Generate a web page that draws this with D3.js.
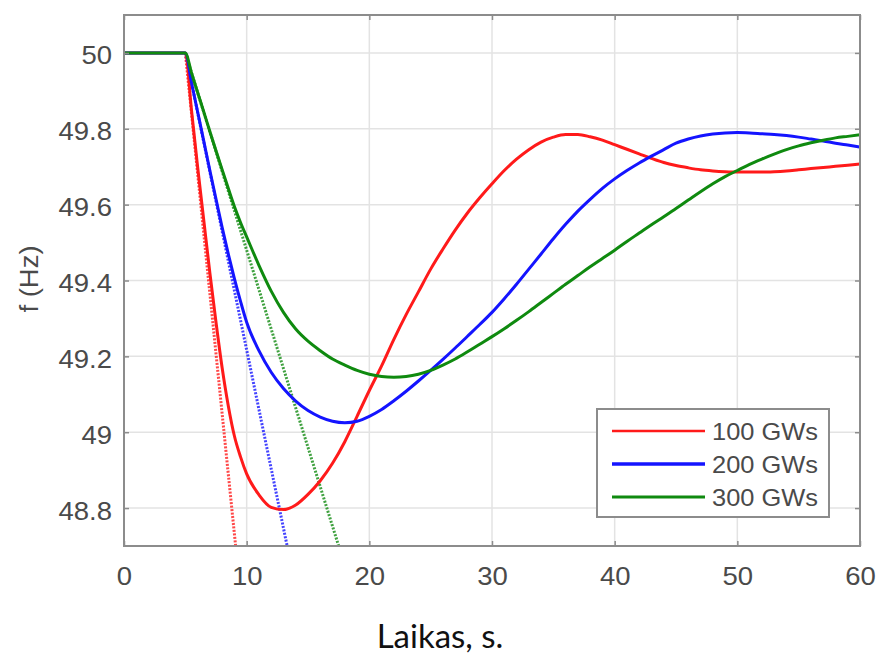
<!DOCTYPE html>
<html><head><meta charset="utf-8">
<script src="https://cdn.jsdelivr.net/npm/d3@7"></script>
<style>body{margin:0;background:#fff}</style>
</head><body>
<svg id="chart" width="880" height="660"></svg>
<script>
const time = [0,5,5.5,6,6.5,7,7.5,8,8.5,9,9.5,10,11,12,13,14,15,16,17,18,19,20,21,22,23,24,25,26,27,28,29,30,31,32,33,34,35,36,37,38,39,40,41,42,43,44,45,46,47,48,49,50,51,52,53,54,55,56,57,58,59,60];
const f100 = [50,50,49.85,49.70,49.56,49.42,49.29,49.17,49.07,48.99,48.935,48.89,48.835,48.802,48.796,48.808,48.836,48.872,48.918,48.975,49.042,49.11,49.175,49.245,49.31,49.37,49.43,49.483,49.533,49.578,49.618,49.655,49.69,49.72,49.745,49.765,49.778,49.785,49.785,49.779,49.77,49.758,49.746,49.734,49.722,49.711,49.703,49.697,49.692,49.689,49.687,49.686,49.686,49.686,49.687,49.689,49.692,49.695,49.698,49.701,49.704,49.707];
const f200 = [50,50,49.922,49.845,49.768,49.69,49.615,49.54,49.47,49.405,49.345,49.29,49.215,49.158,49.115,49.082,49.057,49.04,49.029,49.025,49.029,49.042,49.06,49.083,49.108,49.135,49.163,49.192,49.222,49.253,49.284,49.316,49.352,49.39,49.43,49.47,49.51,49.548,49.583,49.614,49.643,49.668,49.69,49.71,49.728,49.745,49.762,49.773,49.781,49.786,49.789,49.79,49.789,49.787,49.785,49.782,49.778,49.773,49.768,49.762,49.757,49.752];
const f300 = [50,50,49.948,49.896,49.845,49.793,49.742,49.692,49.643,49.595,49.553,49.515,49.44,49.372,49.316,49.272,49.24,49.215,49.193,49.177,49.163,49.153,49.147,49.145,49.147,49.153,49.163,49.177,49.193,49.212,49.232,49.252,49.273,49.295,49.318,49.342,49.366,49.39,49.413,49.436,49.458,49.48,49.503,49.525,49.547,49.568,49.59,49.612,49.634,49.655,49.674,49.69,49.706,49.72,49.733,49.745,49.755,49.763,49.77,49.776,49.78,49.784];
// initial-slope (tangent) dotted lines: start and end points [t, f]
const tangent100 = [[5,50],[9.1,48.7]];
const tangent200 = [[5,50],[13.3,48.7]];
const tangent300 = [[5,50],[17.5,48.7]];
const seriesNames = ["100 GWs","200 GWs","300 GWs"];
const seriesColors = ["#ff1a1a","#1414ff","#0f8a0f"];
const xTicks = [0,10,20,30,40,50,60];
const yTicks = [48.8,49,49.2,49.4,49.6,49.8,50];
const xLabel = "Laikas, s.";
const yLabel = "f (Hz)";

const svg = d3.select("#chart");
const L=124, R=860, T=15, B=546;
const x = d3.scaleLinear().domain([0,60]).range([L,R]);
const y = d3.scaleLinear().domain([48.7,50.1]).range([B,T]);
const SX = 1.1;
const tickColor = "#4a4a4a";

// grid
svg.append("g").selectAll("line.gx").data(xTicks.slice(1,-1)).join("line")
  .attr("x1",d=>x(d)).attr("x2",d=>x(d)).attr("y1",T).attr("y2",B)
  .attr("stroke","#e3e3e3").attr("stroke-width",1.5);
svg.append("g").selectAll("line.gy").data(yTicks).join("line")
  .attr("x1",L).attr("x2",R).attr("y1",d=>y(d)).attr("y2",d=>y(d))
  .attr("stroke","#e3e3e3").attr("stroke-width",1.5);

// clip
svg.append("clipPath").attr("id","clip").append("rect")
  .attr("x",L).attr("y",T).attr("width",R-L).attr("height",B-T);

const plot = svg.append("g").attr("clip-path","url(#clip)");

const tangents = [tangent100,tangent200,tangent300];
const lineT = d3.line().x(d=>x(d[0])).y(d=>y(d[1]));
tangents.forEach((t,i)=>{
  plot.append("path").attr("d",lineT(t)).attr("fill","none")
    .attr("stroke",seriesColors[i]).attr("stroke-width",3)
    .attr("stroke-dasharray","2,1.5").attr("opacity",0.8);
});

const series = [f100,f200,f300];
const line = d3.line().x((d,i)=>x(time[i])).y(d=>y(d)).curve(d3.curveMonotoneX);
series.forEach((s,i)=>{
  plot.append("path").attr("d",line(s)).attr("fill","none")
    .attr("stroke",seriesColors[i]).attr("stroke-width",3)
    .attr("stroke-linejoin","round");
});

// frame
svg.append("rect").attr("x",L).attr("y",T).attr("width",R-L).attr("height",B-T)
  .attr("fill","none").attr("stroke","#8c8c8c").attr("stroke-width",2);

// axes with inner ticks
const axB = svg.append("g").attr("transform",`translate(0,${B})`)
  .call(d3.axisBottom(x).tickValues(xTicks).tickSize(-5).tickPadding(0).tickFormat(d3.format("d")));
const axT = svg.append("g").attr("transform",`translate(0,${T})`)
  .call(d3.axisTop(x).tickValues(xTicks).tickSize(-5).tickFormat(""));
const axL = svg.append("g").attr("transform",`translate(${L},0)`)
  .call(d3.axisLeft(y).tickValues(yTicks).tickSize(-5).tickPadding(0).tickFormat(d=>d3.format("")(+d.toFixed(1))));
const axR = svg.append("g").attr("transform",`translate(${R},0)`)
  .call(d3.axisRight(y).tickValues(yTicks).tickSize(-5).tickFormat(""));
[axB,axT,axL,axR].forEach(a=>{
  a.select(".domain").remove();
  a.selectAll(".tick line").attr("stroke","#8c8c8c").attr("stroke-width",1.5);
});
axB.selectAll(".tick text").attr("font-family","'Liberation Sans', Arial, sans-serif")
  .attr("font-size",25).attr("fill",tickColor).attr("y",0).attr("dy",0)
  .attr("transform",`translate(0,39) scale(${SX},1)`);
axL.selectAll(".tick text").attr("font-family","'Liberation Sans', Arial, sans-serif")
  .attr("font-size",25).attr("fill",tickColor).attr("x",0).attr("dy","0.36em")
  .attr("transform",`translate(-12,2) scale(${SX},1)`);

// y label
svg.append("text").attr("transform",`translate(38,279) rotate(-90) scale(${SX},1)`)
  .attr("text-anchor","middle").attr("font-family","'Liberation Sans', Arial, sans-serif")
  .attr("font-size",25).attr("fill",tickColor).text(yLabel);

// x label
svg.append("text").attr("x",440).attr("y",648).attr("text-anchor","middle")
  .attr("font-family","Lato, 'Open Sans', sans-serif").attr("font-size",33)
  .attr("fill","#111").text(xLabel);

// legend
const lg = svg.append("g");
lg.append("rect").attr("x",597).attr("y",409).attr("width",232).attr("height",108)
  .attr("fill","#fff").attr("stroke","#8c8c8c").attr("stroke-width",2);
const rowsY = [431,464,497];
const legW = [2.5,3.5,3];
seriesNames.forEach((n,i)=>{
  lg.append("line").attr("x1",612).attr("x2",705).attr("y1",rowsY[i]).attr("y2",rowsY[i])
    .attr("stroke",seriesColors[i]).attr("stroke-width",legW[i]);
  lg.append("text").attr("transform",`translate(712,${rowsY[i]+9}) scale(1.06,1)`)
    .attr("font-family","'Liberation Sans', Arial, sans-serif").attr("font-size",24)
    .attr("fill",tickColor).text(n);
});
</script>
</body></html>
